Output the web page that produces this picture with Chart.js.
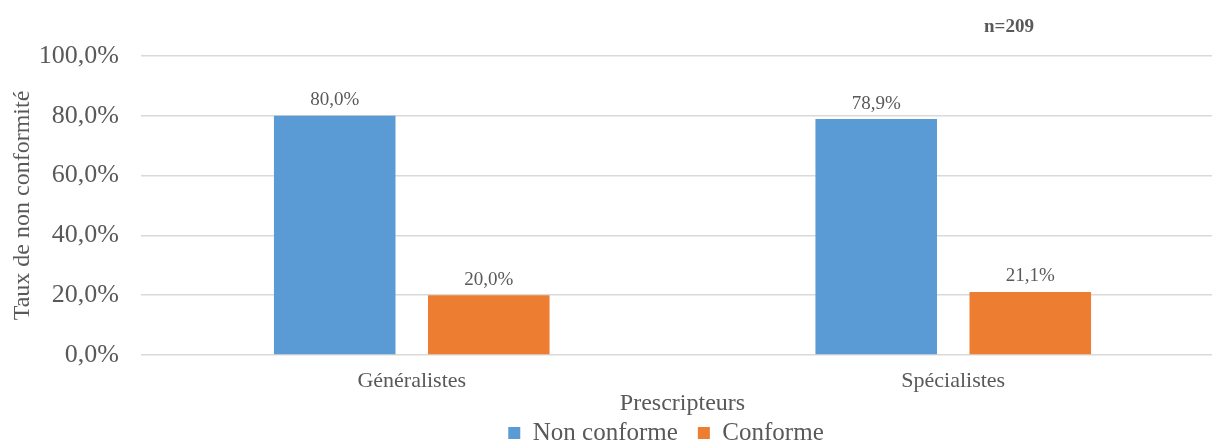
<!DOCTYPE html>
<html>
<head>
<meta charset="utf-8">
<script src="https://cdn.jsdelivr.net/npm/chart.js@4"></script>
<style>
  html, body { margin: 0; padding: 0; background: #fff; overflow: hidden; }
  /* un peu plus large que la fenetre : la derniere colonne deborde a droite comme dans l'original */
  #wrap { width: 1224px; height: 444px; position: relative; }
</style>
</head>
<body>
<div id="wrap"><canvas id="chart"></canvas></div>
<script>
const categories = ['Généralistes', 'Spécialistes'];
const nonConforme = [80.0, 78.9]; // %
const conforme = [20.0, 21.1]; // %
const yTicks = [0, 20, 40, 60, 80, 100];
const seriesNames = ['Non conforme', 'Conforme'];
const sampleLabel = 'n=209';

const serif = '"Liberation Serif", "Times New Roman", serif';
const grey = '#595959';
const legendSize = 25;
const legendPad = 20;

const fmt = v => v.toFixed(1).replace('.', ',') + '%';

// etiquettes au-dessus des barres + n=209, legende et titre X recales comme dans l'original
const labelPlugin = {
    id: 'barLabels',
    afterLayout(chart) {
        const lg = chart.legend;
        lg.left += 54;
        lg.right += 54;
        lg.top = 433 - legendPad - legendSize / 2;
        lg.bottom = lg.top + lg.height;
        chart.scales.x.bottom = 412;
    },
    afterDatasetsDraw(chart) {
        const ctx = chart.ctx;
        ctx.save();
        ctx.fillStyle = grey;
        ctx.font = '19px ' + serif;
        ctx.textAlign = 'center';
        ctx.textBaseline = 'bottom';
        chart.data.datasets.forEach((ds, i) => {
            chart.getDatasetMeta(i).data.forEach((bar, j) => {
                ctx.fillText(fmt(ds.data[j]), bar.x, bar.y - 6);
            });
        });
        ctx.font = 'bold 19px ' + serif;
        ctx.textBaseline = 'middle';
        ctx.fillText(sampleLabel, chart.chartArea.right - 215, 27);
        ctx.restore();
    }
};

const data = {
    labels: categories,
    datasets: [{
        label: seriesNames[0],
        data: nonConforme,
        backgroundColor: '#5B9BD5',
    }, {
        label: seriesNames[1],
        data: conforme,
        backgroundColor: '#ED7D31',
    }]
};

const config = {
    type: 'bar',
    data: data,
    plugins: [labelPlugin],
    options: {
        responsive: true,
        maintainAspectRatio: false,
        animation: false,
        layout: { padding: { top: 56, left: 0, right: 0, bottom: 0 } },
        datasets: {
            bar: { categoryPercentage: 0.569, barPercentage: 0.789 }
        },
        plugins: {
            legend: {
                position: 'bottom',
                labels: {
                    color: grey,
                    font: { family: serif, size: legendSize },
                    boxWidth: 12,
                    boxHeight: 12,
                    padding: legendPad
                }
            },
            tooltip: { enabled: false }
        },
        scales: {
            x: {
                // le bas de la zone de tracé doit tomber vers y=355
                afterFit: axis => { axis.height = axis.chart.height - axis.chart.legend.height - 355; },
                grid: { display: false, drawTicks: false },
                border: { display: false },
                ticks: { color: grey, font: { family: serif, size: 22, lineHeight: 1 }, padding: 15 },
                title: {
                    display: true,
                    text: 'Prescripteurs',
                    color: grey,
                    font: { family: serif, size: 24, lineHeight: 0.7 },
                    padding: { top: 0, bottom: 0 }
                }
            },
            y: {
                min: 0,
                max: 100,
                afterFit: axis => { axis.width = 141; },
                afterBuildTicks: axis => { axis.ticks = yTicks.map(v => ({ value: v })); },
                grid: { color: '#d9d9d9', lineWidth: 1.5, drawTicks: false },
                border: { display: false },
                ticks: {
                    color: grey,
                    font: { family: serif, size: 26 },
                    padding: 22,
                    callback: v => fmt(v)
                },
                title: {
                    display: true,
                    text: 'Taux de non conformité',
                    color: grey,
                    font: { family: serif, size: 24 },
                    padding: { top: 8, bottom: 4 }
                }
            }
        }
    }
};

const ctx = document.getElementById('chart').getContext('2d');
new Chart(ctx, config);
</script>
</body>
</html>
